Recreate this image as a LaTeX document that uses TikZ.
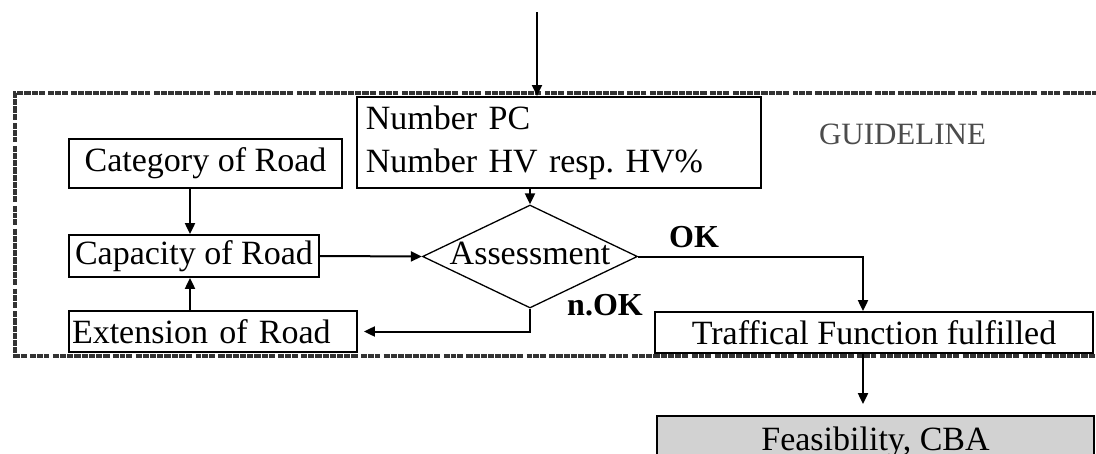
\documentclass[tikz,border=0pt]{standalone}
\usepackage{fontspec}
\setmainfont{Liberation Serif}
\usetikzlibrary{shapes.geometric,arrows.meta}
\frenchspacing
\begin{document}
\tikzset{
  box/.style={draw=black, line width=1.8pt, fill=white, inner sep=0pt,
    font=\fontsize{34}{43}\selectfont},
  arr/.style={line width=2pt, -{Triangle[length=11pt,width=10pt]}},
  guideline/.style={draw=black!80, line width=4pt,
    dash pattern=on 6.2pt off 1pt on 6.2pt off 1pt on 6.2pt off 1pt on 6.2pt off 1pt
      on 6.2pt off 1pt on 6.2pt off 1pt on 6.2pt off 1pt on 6.2pt off 3.5pt
      on 5.7pt off 1pt on 5.7pt off 1pt on 5.7pt off 3.5pt},
  lab/.style={font=\fontsize{32}{36}\selectfont\bfseries, inner sep=0pt},
}
\begin{tikzpicture}[x=1pt,y=-1pt]
\useasboundingbox (0,0) rectangle (1096,453);
\clip (0,0) rectangle (1096,453);
\fill[white] (0,0) rectangle (1096,453);

% dotted guideline frame (right side runs out of the picture)
\draw[guideline] (1120,93) -- (15,93) -- (15,356) -- (1120,356);

% nodes
\node[box, minimum width=404pt, minimum height=91pt, text width=386pt,
      inner xsep=9pt, align=left, anchor=north west] (num) at (356,96)
      {Number PC\\Number HV resp. HV\%};
\node[box, minimum width=273pt, minimum height=49pt] (cat) at (205.5,163.5) {Category of Road};
\node[box, minimum width=250pt, minimum height=42pt] (cap) at (194,256) {Capacity of Road};
\node[box, minimum width=288pt, minimum height=41pt, text width=282pt,
      inner xsep=3pt, align=left] (ext) at (213,331.5) {Extension of Road};
\node[box, minimum width=438pt, minimum height=41pt] (traf) at (874,332.5) {Traffical Function fulfilled};
\node[box, fill=gray!35, minimum width=437pt, minimum height=52pt] (feas) at (875.5,442) {Feasibility, CBA};
\node[diamond, draw=black, line width=1.3pt, fill=white, minimum width=215pt,
      minimum height=103pt, inner sep=0pt] (ass) at (530,256.5) {};
\node[font=\fontsize{34}{43}\selectfont, inner sep=0pt, anchor=base] (asst) at (530,264) {Assessment};

\node[lab, anchor=base] (ok) at (694,247) {OK};
\node[lab, anchor=base] (nok) at (605,315) {n.OK};
\node[font=\fontsize{31}{36}\selectfont, text=black!70, inner sep=0pt, anchor=base] (gl) at (902.5,144) {GUIDELINE};

% helper coordinates
\coordinate (top) at (537,12);
\coordinate (colA) at (190,0);
\coordinate (colB) at (863,0);

% connectors
\draw[arr] (top) -- (top |- num.north);
\draw[arr] (num.south -| ass.north) -- (ass.north);
\draw[arr] (cat.south -| colA) -- (cap.north -| colA);
\draw[arr] (ext.north -| colA) -- (cap.south -| colA);
\draw[arr] (cap.east) -- (ass.west);
\draw[arr] (ass.east) -| (traf.north -| colB);
\draw[arr, shorten >=6pt] (ass.south) |- (ext.east);
\draw[arr, shorten >=11pt] (traf.south -| colB) -- (feas.north -| colB);
\end{tikzpicture}
\end{document}
